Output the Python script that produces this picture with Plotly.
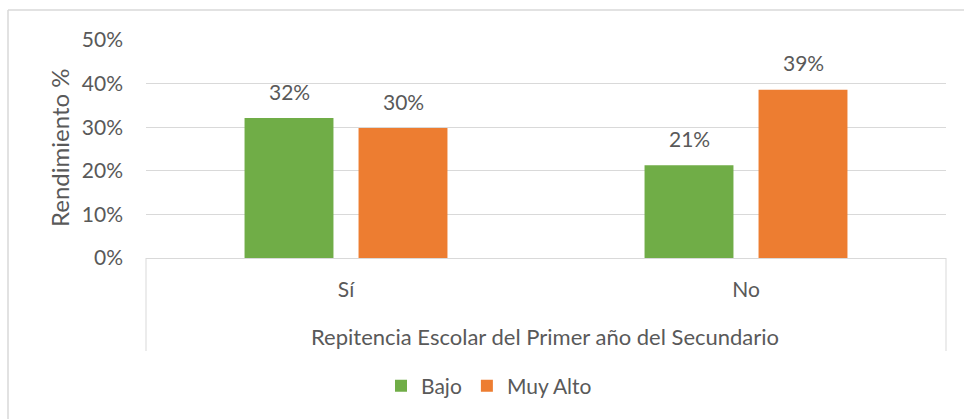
import plotly.graph_objects as go

# Data
categories = ["Sí", "No"]
bajo = [0.321, 0.213]
muy_alto = [0.298, 0.386]
series_names = ["Bajo", "Muy Alto"]
series_colors = ["#70ad47", "#ed7d31"]
y_ticks = [0, 0.1, 0.2, 0.3, 0.4, 0.5]
x_title = "Repitencia Escolar del Primer año del Secundario"
y_title = "Rendimiento %"

FONT = "Lato"
TEXT = "#595959"
GRID = "#d9d9d9"
FS = 21

# Plot area in pixels
W, H = 964, 419
L, R, T, B = 146, 946, 40, 258
BARGAP = 0.43
BARGROUPGAP = 0.22


def px(x):
    return (x - L) / (R - L)


def py(y):
    return (B - y) / (B - T)


fig = go.Figure()
series = [bajo, muy_alto]
for name, vals, color in zip(series_names, series, series_colors):
    fig.add_trace(go.Bar(x=categories, y=vals, name=name, marker_color=color,
                         marker_line_width=0))

# Value labels above each bar, centred on the bar of its series
cat_px = (R - L) / len(categories)
slot_px = cat_px * (1 - BARGAP) / len(series)
for i, vals in enumerate(series):
    shift = (i - (len(series) - 1) / 2) * slot_px
    for cat, v in zip(categories, vals):
        fig.add_annotation(x=cat, y=v, text=f"{v:.0%}", showarrow=False,
                           xshift=shift, yshift=27, yanchor="middle",
                           font=dict(size=FS, color=TEXT, family=FONT))

fig.update_layout(
    width=W, height=H,
    margin=dict(l=L, r=W - R, t=T, b=H - B),
    paper_bgcolor="white", plot_bgcolor="white",
    font=dict(family=FONT, size=FS, color=TEXT),
    barmode="group", bargap=BARGAP, bargroupgap=BARGROUPGAP,
    showlegend=True,
    legend=dict(orientation="h", x=px(489), xanchor="center", y=py(386),
                yanchor="middle", font=dict(size=FS, color=TEXT),
                itemwidth=30, tracegroupgap=0),
)

fig.update_yaxes(
    range=[0, 0.5], tickvals=y_ticks, tickformat=".0%",
    showgrid=True, gridcolor=GRID, gridwidth=1,
    zeroline=False, showline=False, ticks="",
    ticklabelstandoff=22, tickfont=dict(size=FS, color=TEXT),
)
fig.update_xaxes(
    showgrid=False, showline=True, linecolor=GRID, linewidth=1,
    ticks="", ticklabelstandoff=13, tickfont=dict(size=FS, color=TEXT),
)

# Category axis box lines
for xp in (L, R):
    fig.add_shape(type="line", xref="paper", yref="paper",
                  x0=px(xp), x1=px(xp), y0=py(B), y1=py(351),
                  line=dict(color=GRID, width=1))

# Outer chart border (top and left edges)
fig.add_shape(type="line", xref="paper", yref="paper",
              x0=px(8), x1=px(W + 5), y0=py(10), y1=py(10),
              line=dict(color=GRID, width=1.5))
fig.add_shape(type="line", xref="paper", yref="paper",
              x0=px(8), x1=px(8), y0=py(10), y1=py(H + 5),
              line=dict(color=GRID, width=1.5))

# Axis titles
fig.add_annotation(text=x_title, xref="paper", yref="paper",
                   x=px(545), y=py(336), xanchor="center", yanchor="middle",
                   showarrow=False, font=dict(size=22, color=TEXT))
fig.add_annotation(text=y_title, xref="paper", yref="paper",
                   x=px(59), y=py(148), xanchor="center", yanchor="middle",
                   textangle=-90, showarrow=False,
                   font=dict(size=24, color=TEXT))

fig.write_html("out.html")
